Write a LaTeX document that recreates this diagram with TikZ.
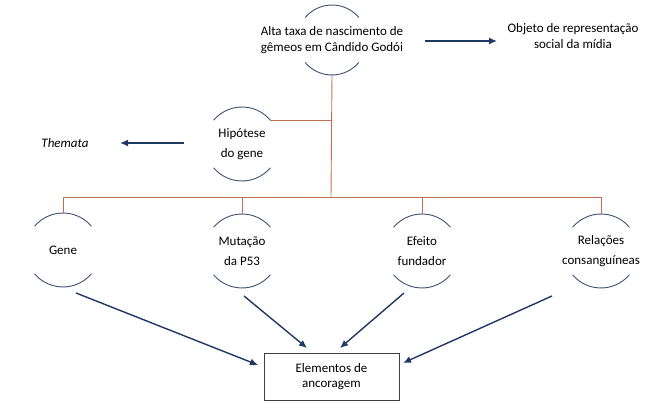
\documentclass[tikz,border=0pt]{standalone}
\usepackage{fontspec}
\setmainfont{Carlito}
\usetikzlibrary{calc,arrows.meta}
\definecolor{ramocor}{RGB}{192,110,84}
\definecolor{arcocor}{RGB}{62,80,120}
\definecolor{setacor}{RGB}{31,56,100}
\def\capsarc[#1](#2)(#3){\draw[#1] ($(#2)+(220:#3)$) arc (220:320:#3); \draw[#1] ($(#2)+(40:#3)$) arc (40:140:#3);}

\begin{document}
\begin{tikzpicture}[x=1pt,y=-1pt,
	texto/.style={align=center,font=\fontsize{13}{15.5}\selectfont},
	tema/.style={align=center,font=\fontsize{13}{20}\selectfont},
	linha/.style={draw=ramocor,line width=0.9pt},
	seta/.style={draw=setacor,line width=1.4pt,-{Latex[length=8pt,width=7pt]}}]
			%%%%% START %%%%%
			\useasboundingbox (0,0) rectangle (670,414);
			
			\node[texto] (topo) at (332,40) {Alta taxa de nascimento de\\gêmeos em Cândido Godói};
			\node[texto] (objeto) at (573,36) {Objeto de representação\\social da mídia};
			\node[tema] (hipotese) at (242,144) {Hipótese\\do gene};
			\node[texto] (themata) at (65,143) {\itshape Themata};
			
			\node[tema] (gene) at (63,250) {Gene};
			\node[tema] (mutacao) at (242,251) {Mutação\\da P53};
			\node[tema] (efeito) at (422,251) {Efeito\\fundador};
			\node[tema] (relacoes) at (601,251) {Relações\\consanguíneas};
			
			\node[texto, draw=black!75, line width=0.8pt, minimum width=135pt, minimum height=47pt] (ancoragem) at (331.5,376.5) {Elementos de\\ancoragem};
			
			\capsarc[draw=arcocor, line width=0.9pt](topo)(35);
			\capsarc[draw=arcocor, line width=0.9pt](hipotese)(37);
			\foreach \n in {gene,mutacao,efeito,relacoes}
				\capsarc[draw=arcocor, line width=0.9pt](\n)(37);
			
			\coordinate (ramo) at (331,197);
			\coordinate (hip-ne) at ($(hipotese)+(320:37)$);
			\draw[linha] ($(topo)+(0,35)$) -- (ramo);
			\draw[linha] (hip-ne) -- (hip-ne -| ramo);
			\draw[linha] (gene |- ramo) -- (relacoes |- ramo);
			\foreach \n in {gene,mutacao,efeito,relacoes}
				\draw[linha] (\n |- ramo) -- ($(\n)+(0,-37)$);
			
			\coordinate (topo-e) at (425,41);
			\coordinate (objeto-w) at (497,41);
			\coordinate (hip-w) at (184,143);
			\coordinate (themata-e) at (120,143);
			\draw[seta] (topo-e) -- (objeto-w);
			\draw[seta] (hip-w) -- (themata-e);
			
			\coordinate (gene-s) at (76,293);
			\coordinate (mutacao-s) at (244,296);
			\coordinate (efeito-s) at (404,293);
			\coordinate (relacoes-s) at (552,296);
			\coordinate (anc-1) at (258,365);
			\coordinate (anc-2) at (307,348);
			\coordinate (anc-3) at (340,348);
			\coordinate (anc-4) at (403,363);
			\draw[seta] (gene-s) -- (anc-1);
			\draw[seta] (mutacao-s) -- (anc-2);
			\draw[seta] (efeito-s) -- (anc-3);
			\draw[seta] (relacoes-s) -- (anc-4);
			%%%%% END %%%%%
\end{tikzpicture}
\end{document}
